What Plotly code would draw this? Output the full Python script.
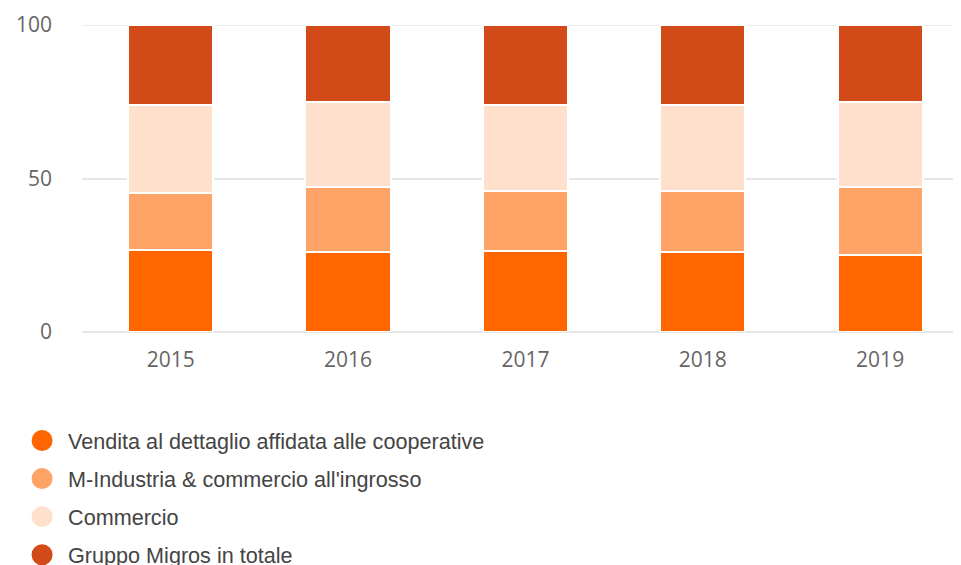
import plotly.graph_objects as go

years = ["2015", "2016", "2017", "2018", "2019"]
vendita = [26.6, 25.9, 26.5, 25.9, 25.2]
industria = [18.8, 21.4, 19.5, 20.1, 22.1]
commercio = [28.5, 27.6, 27.9, 27.9, 27.6]
gruppo = [26.1, 25.1, 26.1, 26.1, 25.1]

series_names = [
    "Vendita al dettaglio affidata alle cooperative",
    "M-Industria & commercio all'ingrosso",
    "Commercio",
    "Gruppo Migros in totale",
]
series_values = [vendita, industria, commercio, gruppo]
colors = ["#ff6600", "#ffa366", "#ffe0cc", "#d14a17"]

fig = go.Figure()
for name, vals, col in zip(series_names, series_values, colors):
    fig.add_trace(go.Bar(
        x=years, y=vals, name=name, marker=dict(color=col, line=dict(color="white", width=2)),
        width=0.48, showlegend=False, hoverinfo="x+y+name",
    ))
for i, (name, col) in enumerate(zip(series_names, colors)):
    fig.add_trace(go.Scatter(
        x=[None], y=[None], mode="markers", name=name, legendgroup=f"g{i}",
        marker=dict(symbol="circle", size=16, color=col, line=dict(color=col, width=5)),
    ))

grid_col = "#e6e6e6"
fig.add_shape(type="line", xref="paper", yref="y", x0=0, x1=1, y0=100, y1=100,
              line=dict(color=grid_col, width=1.5), layer="below")

# page body has an 8px default margin, so margins are offset to compensate
fig.update_layout(
    width=961, height=565,
    barmode="stack",
    paper_bgcolor="white", plot_bgcolor="white",
    margin=dict(l=74, r=8, t=17, b=241, autoexpand=False),
    xaxis=dict(
        type="category", range=[-0.5, 4.456], showgrid=False, showline=False, zeroline=False,
        ticks="", ticklabelstandoff=13, automargin=False,
        tickfont=dict(family="Open Sans", size=21, color="#666666"),
    ),
    yaxis=dict(
        range=[0, 100], tickvals=[0, 50, 100], showgrid=True, gridcolor=grid_col, gridwidth=1.5,
        zeroline=True, zerolinecolor=grid_col, zerolinewidth=1.5, showline=False, ticks="",
        ticklabelstandoff=29, automargin=False,
        tickfont=dict(family="Open Sans", size=21, color="#666666"),
    ),
    legend=dict(
        x=-0.075, xanchor="left", y=-0.2865, yanchor="top", orientation="v",
        itemwidth=42, tracegroupgap=7, traceorder="grouped",
        font=dict(family="Liberation Sans", size=21.6, color="#444444"),
        bgcolor="rgba(0,0,0,0)",
    ),
)

fig.write_html("out.html")
